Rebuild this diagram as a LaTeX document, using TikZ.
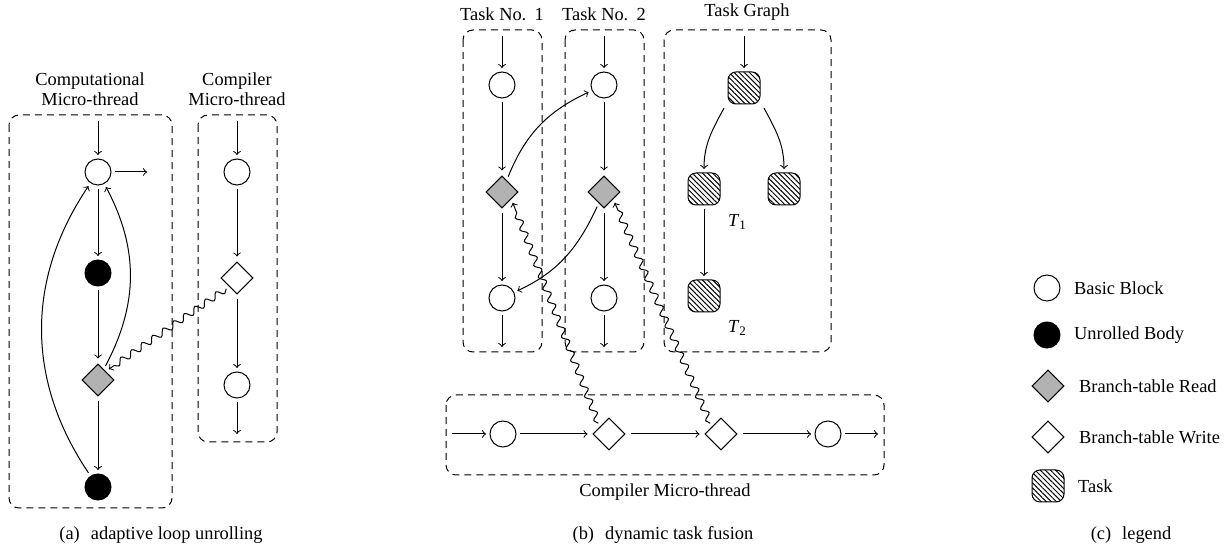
\documentclass[tikz,border=0pt]{standalone}
\usepackage{fontspec}
\setmainfont{Liberation Serif}
\usetikzlibrary{shapes.geometric,patterns.meta,decorations.pathmorphing}

\newcommand{\tsub}[1]{\textit{T}\raisebox{-0.45ex}{\fontsize{6.5}{7}\selectfont #1}}

\begin{document}
\begin{tikzpicture}[x=0.5pt,y=0.5pt,
  line width=0.5pt,
  font=\fontsize{9.2}{10}\selectfont,
  arr/.style={->},
  bb/.style={circle, draw, fill=white, minimum size=13pt, inner sep=0pt, outer sep=2pt},
  ub/.style={bb, fill=black},
  bread/.style={diamond, draw, fill=gray!60, minimum size=17.5pt, inner sep=0pt, outer sep=2pt},
  bwrite/.style={bread, fill=white},
  tasknode/.style={draw, rounded corners=4pt, minimum size=16pt, inner sep=0pt, outer sep=2pt,
    pattern={Lines[angle=-45,distance=1.8pt,line width=0.5pt]}},
  grp/.style={draw, dash pattern=on 3.5pt off 2.5pt, rounded corners=5pt},
  wavy/.style={->, decorate, decoration={snake, amplitude=1.6pt, segment length=6.4pt, post length=3pt}},
  lbl/.style={inner sep=0pt, align=center}
]
\useasboundingbox (0,0) rectangle (1228,-550);

% ---------------- (a) adaptive loop unrolling ----------------
\draw[grp] (9,-115) rectangle (172,-508);
\draw[grp] (198,-115) rectangle (277,-442);
\node[lbl] (acomp) at (90,-89) {Computational\\Micro-thread};
\node[lbl] (acmpl) at (237,-89) {Compiler\\Micro-thread};

\node[bb] (a1) at (98,-172) {};
\node[ub] (a2) at (98,-273) {};
\node[bread] (a3) at (98,-380) {};
\node[ub] (a4) at (98,-487) {};
\coordinate (ain) at (98,-121);
\coordinate (aout) at (147,-172);
\draw[arr] (ain) -- (a1);
\draw[arr] (a1) -- (aout);
\draw[arr] (a1) -- (a2);
\draw[arr] (a2) -- (a3);
\draw[arr] (a3) -- (a4);
\draw[arr] (a4) to[out=124,in=236] (a1);
\draw[arr] (a3) to[out=62,in=-62] (a1);

\node[bb] (b1) at (237,-172) {};
\node[bwrite] (b2) at (237,-278) {};
\node[bb] (b3) at (237,-385) {};
\coordinate (bin) at (237,-121);
\coordinate (bout) at (237,-434);
\draw[arr] (bin) -- (b1);
\draw[arr] (b1) -- (b2);
\draw[arr] (b2) -- (b3);
\draw[arr] (b3) -- (bout);
\draw[wavy] (b2.south west) -- (a3.north east);

\node[lbl] (capa) at (161,-535) {(a)\hspace{0.6em}adaptive loop unrolling};

% ---------------- (b) dynamic task fusion ----------------
\draw[grp] (463,-30) rectangle (542,-352);
\draw[grp] (565,-30) rectangle (644,-352);
\draw[grp] (664,-30) rectangle (831,-352);
\draw[grp] (446,-395) rectangle (884,-475);
\node[lbl] (tk1) at (502,-14) {Task No.\hspace{0.45em}1};
\node[lbl] (tk2) at (604,-14) {Task No.\hspace{0.45em}2};
\node[lbl] (tkg) at (747,-12) {Task Graph};
\node[lbl] (cmt) at (665,-492) {Compiler Micro-thread};

% task no. 1
\node[bb] (p1) at (502,-85) {};
\node[bread] (p2) at (502,-192) {};
\node[bb] (p3) at (502,-298) {};
\coordinate (pin) at (502,-36);
\coordinate (pout) at (502,-347);
\draw[arr] (pin) -- (p1);
\draw[arr] (p1) -- (p2);
\draw[arr] (p2) -- (p3);
\draw[arr] (p3) -- (pout);

% task no. 2
\node[bb] (q1) at (604,-85) {};
\node[bread] (q2) at (604,-192) {};
\node[bb] (q3) at (604,-298) {};
\coordinate (qin) at (604,-36);
\coordinate (qout) at (604,-347);
\draw[arr] (qin) -- (q1);
\draw[arr] (q1) -- (q2);
\draw[arr] (q2) -- (q3);
\draw[arr] (q3) -- (qout);

% fused control flow between the tasks
\draw[arr] (p2) to[out=68,in=205] (q1);
\draw[arr] (q2) to[out=245,in=25] (p3);

% task graph
\node[tasknode] (g1) at (744,-88) {};
\node[tasknode] (g2) at (704,-189) {};
\node[tasknode] (g3) at (784,-189) {};
\node[tasknode] (g4) at (704,-296) {};
\coordinate (gin) at (744,-36);
\draw[arr] (gin) -- (g1);
\draw[arr] (g1.south west) to[out=-118,in=90] (g2.north);
\draw[arr] (g1.south east) to[out=-62,in=90] (g3.north);
\draw[arr] (g2) -- (g4);
\node[lbl] (t1) at (737,-222) {\tsub{1}};
\node[lbl] (t2) at (737,-328) {\tsub{2}};

% compiler micro-thread
\coordinate (cin) at (452,-434);
\node[bb] (c1) at (503,-434) {};
\node[bwrite] (c2) at (609,-434) {};
\node[bwrite] (c3) at (721,-434) {};
\node[bb] (c4) at (828,-434) {};
\coordinate (cout) at (878,-434);
\draw[arr] (cin) -- (c1);
\draw[arr] (c1) -- (c2);
\draw[arr] (c2) -- (c3);
\draw[arr] (c3) -- (c4);
\draw[arr] (c4) -- (cout);
\draw[wavy] (c2.north west) -- (p2.south east);
\draw[wavy] (c3.north west) -- (q2.south east);

\node[lbl] (capb) at (663,-535) {(b)\hspace{0.6em}dynamic task fusion};

% ---------------- (c) legend ----------------
\node[bb] (l1) at (1047,-288) {};
\node[ub] (l2) at (1047,-335) {};
\node[bread] (l3) at (1048,-386) {};
\node[bwrite] (l4) at (1048,-437) {};
\node[tasknode] (l5) at (1048,-486) {};
\node[anchor=west] (l1t) at (1067,-288) {Basic Block};
\node[anchor=west] (l2t) at (1067,-335) {Unrolled Body};
\node[anchor=west] (l3t) at (1072,-386) {Branch-table Read};
\node[anchor=west] (l4t) at (1072,-437) {Branch-table Write};
\node[anchor=west] (l5t) at (1071,-486) {Task};
\node[lbl] (capc) at (1131,-535) {(c)\hspace{0.6em}legend};
\end{tikzpicture}
\end{document}
